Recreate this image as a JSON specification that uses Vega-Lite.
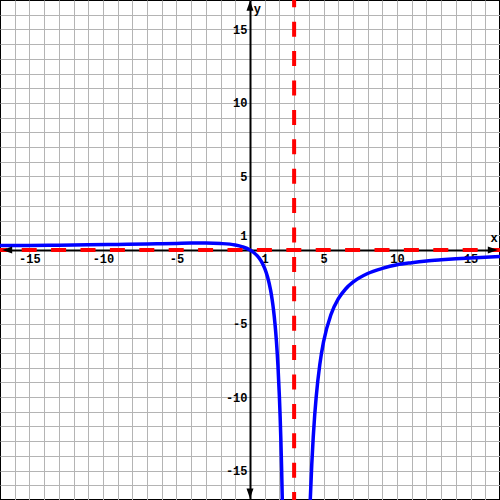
{
  "$schema": "https://vega.github.io/schema/vega-lite/v6.json",
  "width": 500,
  "height": 500,
  "autosize": "none",
  "padding": 0,
  "background": "white",
  "config": {
    "view": {"stroke": "black", "strokeWidth": 2},
    "font": "Liberation Mono"
  },
  "encoding": {
    "x": {
      "field": "x", "type": "quantitative",
      "scale": {"domain": [-17, 17], "nice": false, "zero": false},
      "axis": {
        "values": [-16,-15,-14,-13,-12,-11,-10,-9,-8,-7,-6,-5,-4,-3,-2,-1,0,1,2,3,4,5,6,7,8,9,10,11,12,13,14,15,16],
        "offset": -250,
        "grid": true, "gridColor": "#b4b4b4", "gridWidth": 1, "gridOpacity": 1,
        "ticks": false, "tickSize": 0,
        "domain": true, "domainColor": "black", "domainWidth": 2,
        "labelExpr": "indexof([-15,-10,-5,1,5,10,15], datum.value) >= 0 ? (datum.value + '') : ''",
        "labelFont": "Liberation Mono", "labelFontSize": 12, "labelFontWeight": "bold", "labelColor": "black",
        "labelPadding": 3, "labelFlush": false, "labelOverlap": false, "labelBound": false,
        "title": null
      }
    },
    "y": {
      "field": "y", "type": "quantitative",
      "scale": {"domain": [-17, 17], "nice": false, "zero": false},
      "axis": {
        "values": [-16,-15,-14,-13,-12,-11,-10,-9,-8,-7,-6,-5,-4,-3,-2,-1,0,1,2,3,4,5,6,7,8,9,10,11,12,13,14,15,16],
        "offset": -250,
        "grid": true, "gridColor": "#b4b4b4", "gridWidth": 1, "gridOpacity": 1,
        "ticks": false, "tickSize": 0,
        "domain": true, "domainColor": "black", "domainWidth": 2,
        "labelExpr": "indexof([-15,-10,-5,1,5,10,15], datum.value) >= 0 ? (datum.value + '') : ''",
        "labelFont": "Liberation Mono", "labelFontSize": 12, "labelFontWeight": "bold", "labelColor": "black",
        "labelPadding": 3, "labelFlush": false, "labelOverlap": false, "labelBound": false,
        "title": null
      }
    }
  },
  "layer": [
    {
      "data": {
        "values": [
          {"x": -17, "y": 0.3, "branch": "left"},
          {"x": -15, "y": 0.31, "branch": "left"},
          {"x": -13, "y": 0.33, "branch": "left"},
          {"x": -11, "y": 0.35, "branch": "left"},
          {"x": -9, "y": 0.38, "branch": "left"},
          {"x": -7, "y": 0.41, "branch": "left"},
          {"x": -6, "y": 0.43, "branch": "left"},
          {"x": -5, "y": 0.45, "branch": "left"},
          {"x": -4, "y": 0.47, "branch": "left"},
          {"x": -3, "y": 0.47, "branch": "left"},
          {"x": -2, "y": 0.44, "branch": "left"},
          {"x": -1, "y": 0.34, "branch": "left"},
          {"x": -0.5, "y": 0.21, "branch": "left"},
          {"x": 0, "y": 0, "branch": "left"},
          {"x": 0.25, "y": -0.17, "branch": "left"},
          {"x": 0.5, "y": -0.4, "branch": "left"},
          {"x": 0.75, "y": -0.74, "branch": "left"},
          {"x": 1, "y": -1.25, "branch": "left"},
          {"x": 1.2, "y": -1.85, "branch": "left"},
          {"x": 1.4, "y": -2.73, "branch": "left"},
          {"x": 1.5, "y": -3.33, "branch": "left"},
          {"x": 1.6, "y": -4.08, "branch": "left"},
          {"x": 1.7, "y": -5.03, "branch": "left"},
          {"x": 1.8, "y": -6.25, "branch": "left"},
          {"x": 1.9, "y": -7.85, "branch": "left"},
          {"x": 2.0, "y": -10, "branch": "left"},
          {"x": 2.05, "y": -11.36, "branch": "left"},
          {"x": 2.1, "y": -12.96, "branch": "left"},
          {"x": 2.15, "y": -14.88, "branch": "left"},
          {"x": 2.2, "y": -17.19, "branch": "left"},
          {"x": 2.25, "y": -20, "branch": "left"},
          {"x": 3.9, "y": -24.07, "branch": "right"},
          {"x": 4.0, "y": -20, "branch": "right"},
          {"x": 4.1, "y": -16.94, "branch": "right"},
          {"x": 4.2, "y": -14.58, "branch": "right"},
          {"x": 4.3, "y": -12.72, "branch": "right"},
          {"x": 4.4, "y": -11.22, "branch": "right"},
          {"x": 4.5, "y": -10, "branch": "right"},
          {"x": 4.75, "y": -7.76, "branch": "right"},
          {"x": 5, "y": -6.25, "branch": "right"},
          {"x": 5.5, "y": -4.4, "branch": "right"},
          {"x": 6, "y": -3.33, "branch": "right"},
          {"x": 6.5, "y": -2.65, "branch": "right"},
          {"x": 7, "y": -2.19, "branch": "right"},
          {"x": 8, "y": -1.6, "branch": "right"},
          {"x": 9, "y": -1.25, "branch": "right"},
          {"x": 10, "y": -1.0, "branch": "right"},
          {"x": 11, "y": -0.86, "branch": "right"},
          {"x": 12, "y": -0.75, "branch": "right"},
          {"x": 13, "y": -0.67, "branch": "right"},
          {"x": 14, "y": -0.6, "branch": "right"},
          {"x": 15, "y": -0.54, "branch": "right"},
          {"x": 16, "y": -0.49, "branch": "right"},
          {"x": 17, "y": -0.45, "branch": "right"}
        ]
      },
      "mark": {"type": "line", "color": "#0000ff", "strokeWidth": 3.5, "interpolate": "monotone", "clip": true},
      "encoding": {
        "detail": {"field": "branch"}
      }
    },
    {
      "data": {"values": [{"x": -17, "x2": 17, "y": 0}]},
      "mark": {"type": "rule", "color": "#ff0000", "strokeWidth": 4, "strokeDash": [15, 14.4], "strokeDashOffset": 7.7},
      "encoding": {
        "x2": {"field": "x2"}
      }
    },
    {
      "data": {"values": [{"x": 3, "y": 17, "y2": -17}]},
      "mark": {"type": "rule", "color": "#ff0000", "strokeWidth": 4, "strokeDash": [15, 14.4], "strokeDashOffset": 7.7},
      "encoding": {
        "y2": {"field": "y2"}
      }
    },
    {
      "data": {
        "values": [
          {"x": 0, "y": 16.95, "dir": "up"},
          {"x": 0, "y": -16.9, "dir": "down"},
          {"x": -16.85, "y": 0, "dir": "left"},
          {"x": 16.85, "y": 0, "dir": "right"}
        ]
      },
      "mark": {"type": "point", "filled": true, "color": "black", "opacity": 1, "size": 400},
      "encoding": {
        "shape": {
          "field": "dir", "type": "nominal", "legend": null,
          "scale": {
            "domain": ["up", "down", "left", "right"],
            "range": ["M0,0L-0.35,1L0.35,1Z", "M0,0L-0.35,-1L0.35,-1Z", "M0,0L1,-0.35L1,0.35Z", "M0,0L-1,-0.35L-1,0.35Z"]
          }
        }
      }
    },
    {
      "data": {
        "values": [
          {"x": 0.5, "y": 16.4, "name": "y"},
          {"x": 16.6, "y": 0.8, "name": "x"}
        ]
      },
      "mark": {"type": "text", "font": "Liberation Mono", "fontSize": 12, "fontWeight": "bold", "color": "black", "align": "center", "baseline": "middle"},
      "encoding": {
        "text": {"field": "name"}
      }
    }
  ]
}
